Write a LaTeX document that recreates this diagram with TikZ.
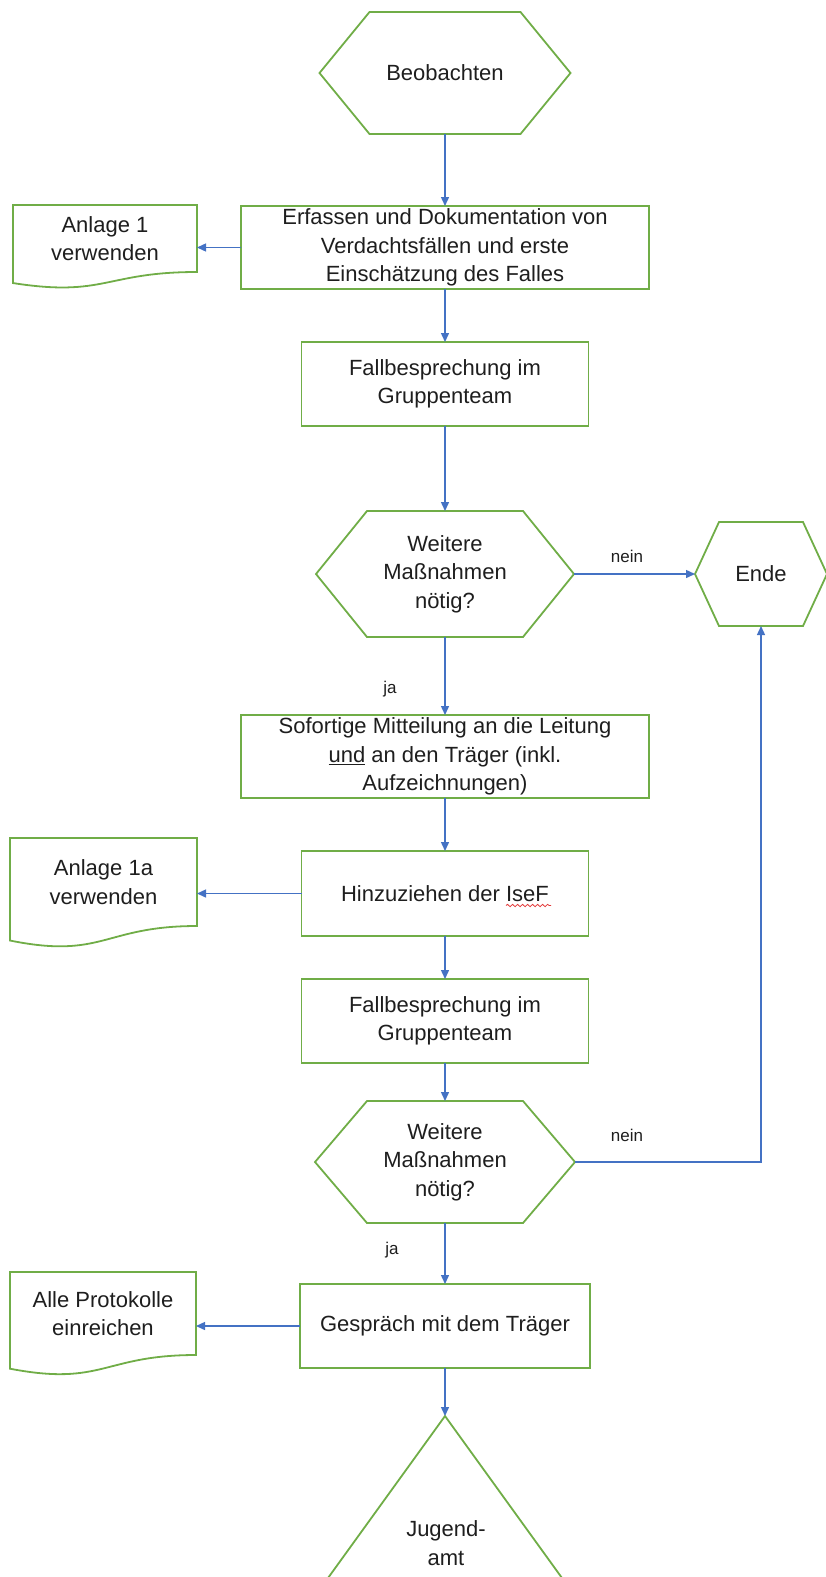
\documentclass[tikz,border=0pt]{standalone}
\usepackage{fontspec}
\setmainfont{Liberation Sans}
\usetikzlibrary{arrows.meta,positioning,calc,decorations.pathmorphing}
\definecolor{FlowGreen}{HTML}{70AD47}
\definecolor{FlowBlue}{HTML}{4472C4}
\definecolor{FlowText}{HTML}{1E1E1E}
\definecolor{SpellRed}{HTML}{E23B3B}

\begin{document}
\begin{tikzpicture}[
  x=1pt,y=1pt,
  every node/.style={inner sep=0pt,outer sep=0pt,align=center,text=FlowText,
    font=\fontsize{22pt}{28.5pt}\selectfont},
  box/.style 2 args={draw=FlowGreen,line width=1.8pt,minimum width=#1,minimum height=#2},
  hexnode/.style 2 args={minimum width=#1,minimum height=#2},
  docnode/.style 2 args={anchor=north west,minimum width=#1,minimum height=#2},
  lbl/.style={font=\fontsize{17pt}{20pt}\selectfont},
  shapeline/.style={draw=FlowGreen,line width=1.8pt},
  flow/.style={-{Triangle[length=9pt,width=8pt]},line width=1.4pt,FlowBlue}
]
\useasboundingbox (0,0) rectangle (826,-1577);

\node (beob) [hexnode={251pt}{122pt}] at (445,-73) {Beobachten};
\node (erf) [box={408pt}{83pt},below=72pt of beob]
  {Erfassen und Dokumentation von\\Verdachtsfällen und erste\\Einschätzung des Falles};
\node (fall1) [box={287pt}{84pt},below=53pt of erf] {Fallbesprechung im\\Gruppenteam};
\node (frage1) [hexnode={258pt}{126pt},below=85pt of fall1] {Weitere\\Maßnahmen\\nötig?};
\node (mitt) [box={408pt}{83pt},below=78pt of frage1]
  {Sofortige Mitteilung an die Leitung\\\underline{und} an den Träger (inkl.\\Aufzeichnungen)};
\node (isef) [box={287pt}{85pt},below=53pt of mitt] {Hinzuziehen der IseF};
\node (fall2) [box={287pt}{84pt},below=43pt of isef] {Fallbesprechung im\\Gruppenteam};
\node (frage2) [hexnode={260pt}{122pt},below=38pt of fall2] {Weitere\\Maßnahmen\\nötig?};
\node (gespr) [box={290pt}{84pt},below=61pt of frage2] {Gespräch mit dem Träger};
\coordinate (spitze) at ($(gespr.south)+(0,-48)$);

\node (ende) [hexnode={132pt}{104pt}] at (761,-574) {Ende};
\node (anl1) [docnode={184pt}{67pt}] at (13,-205) {Anlage 1\\verwenden};
\node (anl1a) [docnode={187pt}{88pt}] at (10,-838) {Anlage 1a\\verwenden};
\node (prot) [docnode={186pt}{83pt}] at (10,-1272) {Alle Protokolle\\einreichen};
\node (jugend) at (446,-1543) {Jugend-\\amt};

\foreach \n/\dx in {beob/50,frage1/51,frage2/52,ende/24}
  \draw[shapeline] (\n.west) -- ($(\n.north west)+(\dx,0)$) -- ($(\n.north east)+(-\dx,0)$)
    -- (\n.east) -- ($(\n.south east)+(-\dx,0)$) -- ($(\n.south west)+(\dx,0)$) -- cycle;
\foreach \n in {anl1,anl1a,prot}
  \draw[shapeline] (\n.north west) -- (\n.north east) -- (\n.south east)
    .. controls (\n.south) and ($(\n.south)!-0.38!(\n.north)$)
    .. ($(\n.south west)!-0.165!(\n.north west)$) -- cycle;
\begin{scope}
  \clip (0,0) rectangle (826,-1577);
  \draw[shapeline] ($(spitze)+(-130,-180)$) -- (spitze) -- ($(spitze)+(130,-180)$);
\end{scope}
\draw[SpellRed,line width=0.8pt,decorate,decoration={snake,amplitude=1.2pt,segment length=5pt}]
  ($(isef.center)+(61,-12)$) -- ++(45,0);

\draw[flow] (beob) -- (erf);
\draw[flow] (erf) -- (fall1);
\draw[flow] (fall1) -- (frage1);
\draw[flow] (frage1) -- (mitt);
\draw[flow] (mitt) -- (isef);
\draw[flow] (isef) -- (fall2);
\draw[flow] (fall2) -- (frage2);
\draw[flow] (frage2) -- (gespr);
\draw[flow] (gespr) -- (spitze);
\draw[flow] (erf.west) -- (erf.west -| anl1.east);
\draw[flow] (isef.west) -- (isef.west -| anl1a.east);
\draw[flow] (gespr.west) -- (gespr.west -| prot.east);
\draw[flow] (frage1.east) -- (ende.west);
\draw[flow] (frage2.east) -| (ende.south);

\node[lbl] (nein1) at (627,-556) {nein};
\node[lbl] (nein2) at (627,-1135) {nein};
\node[lbl] (ja1) at (390,-689) {ja};
\node[lbl] (ja2) at (392,-1250) {ja};
\end{tikzpicture}
\end{document}
